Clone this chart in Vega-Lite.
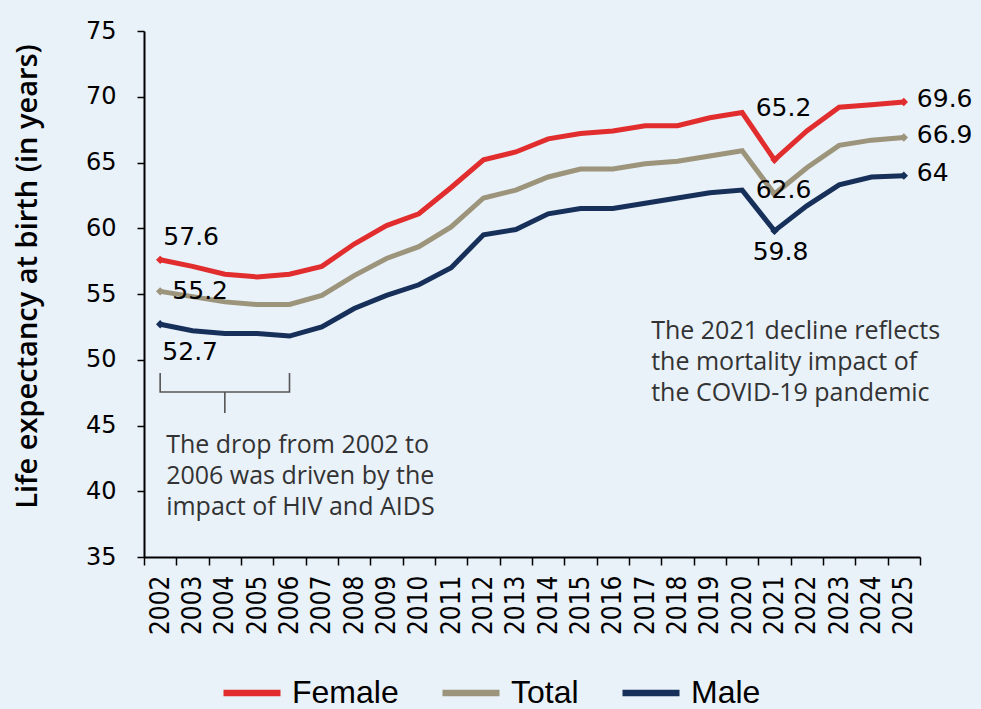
{
  "$schema": "https://vega.github.io/schema/vega-lite/v6.json",
  "width": 776,
  "height": 526,
  "autosize": {"type": "none"},
  "padding": {"left": 144, "top": 31, "right": 61, "bottom": 152},
  "background": "#E9F1F9",
  "config": {
    "view": {"stroke": null},
    "axis": {"grid": false}
  },
  "datasets": {
    "le": [
      {"year": "2002", "series": "Female", "value": 57.6},
      {"year": "2003", "series": "Female", "value": 57.1},
      {"year": "2004", "series": "Female", "value": 56.5},
      {"year": "2005", "series": "Female", "value": 56.3},
      {"year": "2006", "series": "Female", "value": 56.5},
      {"year": "2007", "series": "Female", "value": 57.1},
      {"year": "2008", "series": "Female", "value": 58.8},
      {"year": "2009", "series": "Female", "value": 60.2},
      {"year": "2010", "series": "Female", "value": 61.1},
      {"year": "2011", "series": "Female", "value": 63.1},
      {"year": "2012", "series": "Female", "value": 65.2},
      {"year": "2013", "series": "Female", "value": 65.8},
      {"year": "2014", "series": "Female", "value": 66.8},
      {"year": "2015", "series": "Female", "value": 67.2},
      {"year": "2016", "series": "Female", "value": 67.4},
      {"year": "2017", "series": "Female", "value": 67.8},
      {"year": "2018", "series": "Female", "value": 67.8},
      {"year": "2019", "series": "Female", "value": 68.4},
      {"year": "2020", "series": "Female", "value": 68.8},
      {"year": "2021", "series": "Female", "value": 65.2},
      {"year": "2022", "series": "Female", "value": 67.4},
      {"year": "2023", "series": "Female", "value": 69.2},
      {"year": "2024", "series": "Female", "value": 69.4},
      {"year": "2025", "series": "Female", "value": 69.6},
      {"year": "2002", "series": "Total", "value": 55.2},
      {"year": "2003", "series": "Total", "value": 54.8},
      {"year": "2004", "series": "Total", "value": 54.4},
      {"year": "2005", "series": "Total", "value": 54.2},
      {"year": "2006", "series": "Total", "value": 54.2},
      {"year": "2007", "series": "Total", "value": 54.9},
      {"year": "2008", "series": "Total", "value": 56.4},
      {"year": "2009", "series": "Total", "value": 57.7},
      {"year": "2010", "series": "Total", "value": 58.6},
      {"year": "2011", "series": "Total", "value": 60.1},
      {"year": "2012", "series": "Total", "value": 62.3},
      {"year": "2013", "series": "Total", "value": 62.9},
      {"year": "2014", "series": "Total", "value": 63.9},
      {"year": "2015", "series": "Total", "value": 64.5},
      {"year": "2016", "series": "Total", "value": 64.5},
      {"year": "2017", "series": "Total", "value": 64.9},
      {"year": "2018", "series": "Total", "value": 65.1},
      {"year": "2019", "series": "Total", "value": 65.5},
      {"year": "2020", "series": "Total", "value": 65.9},
      {"year": "2021", "series": "Total", "value": 62.6},
      {"year": "2022", "series": "Total", "value": 64.6},
      {"year": "2023", "series": "Total", "value": 66.3},
      {"year": "2024", "series": "Total", "value": 66.7},
      {"year": "2025", "series": "Total", "value": 66.9},
      {"year": "2002", "series": "Male", "value": 52.7},
      {"year": "2003", "series": "Male", "value": 52.2},
      {"year": "2004", "series": "Male", "value": 52.0},
      {"year": "2005", "series": "Male", "value": 52.0},
      {"year": "2006", "series": "Male", "value": 51.8},
      {"year": "2007", "series": "Male", "value": 52.5},
      {"year": "2008", "series": "Male", "value": 53.9},
      {"year": "2009", "series": "Male", "value": 54.9},
      {"year": "2010", "series": "Male", "value": 55.7},
      {"year": "2011", "series": "Male", "value": 57.0},
      {"year": "2012", "series": "Male", "value": 59.5},
      {"year": "2013", "series": "Male", "value": 59.9},
      {"year": "2014", "series": "Male", "value": 61.1},
      {"year": "2015", "series": "Male", "value": 61.5},
      {"year": "2016", "series": "Male", "value": 61.5},
      {"year": "2017", "series": "Male", "value": 61.9},
      {"year": "2018", "series": "Male", "value": 62.3},
      {"year": "2019", "series": "Male", "value": 62.7},
      {"year": "2020", "series": "Male", "value": 62.9},
      {"year": "2021", "series": "Male", "value": 59.8},
      {"year": "2022", "series": "Male", "value": 61.7},
      {"year": "2023", "series": "Male", "value": 63.3},
      {"year": "2024", "series": "Male", "value": 63.9},
      {"year": "2025", "series": "Male", "value": 64.0}
    ],
    "brace": [
      {"seg": "a", "ord": 1, "year": "2002", "value": 49.0},
      {"seg": "a", "ord": 2, "year": "2002", "value": 47.55},
      {"seg": "a", "ord": 3, "year": "2006", "value": 47.55},
      {"seg": "a", "ord": 4, "year": "2006", "value": 49.0},
      {"seg": "b", "ord": 1, "year": "2004", "value": 47.55},
      {"seg": "b", "ord": 2, "year": "2004", "value": 45.95}
    ],
    "notes": [
      {"year": "2002", "value": 44.4, "text": "The drop from 2002 to\n2006 was driven by the\nimpact of HIV and AIDS"},
      {"year": "2017", "value": 53.1, "text": "The 2021 decline reflects\nthe mortality impact of\nthe COVID-19 pandemic"}
    ]
  },
  "encoding": {
    "x": {
      "field": "year",
      "type": "ordinal",
      "bandPosition": 0.5,
      "scale": {"type": "band", "paddingInner": 0, "paddingOuter": 0},
      "axis": {
        "title": null,
        "domainColor": "#000000",
        "domainWidth": 2,
        "tickBand": "extent",
        "tickColor": "#000000",
        "tickSize": 8,
        "tickWidth": 1.5,
        "labelAngle": 270,
        "labelAlign": "right",
        "labelBaseline": "middle",
        "labelFont": "Liberation Sans Narrow, DejaVu Sans Condensed, Liberation Sans",
        "labelFontSize": 26,
        "labelColor": "#000000",
        "labelPadding": 10
      }
    },
    "y": {
      "field": "value",
      "type": "quantitative",
      "scale": {"domain": [35, 75], "nice": false, "zero": false},
      "axis": {
        "values": [35, 40, 45, 50, 55, 60, 65, 70, 75],
        "title": "Life expectancy at birth (in years)",
        "titleFont": "Open Sans",
        "titleFontWeight": 600,
        "titleFontSize": 29,
        "titleColor": "#000000",
        "titlePadding": 43,
        "titleY": 245,
        "domainColor": "#000000",
        "domainWidth": 2,
        "tickColor": "#000000",
        "tickSize": 7,
        "tickWidth": 1.5,
        "labelFont": "DejaVu Sans",
        "labelFontSize": 24,
        "labelColor": "#000000",
        "labelPadding": 21
      }
    }
  },
  "layer": [
    {
      "data": {"name": "le"},
      "mark": {"type": "line", "strokeWidth": 5},
      "encoding": {
        "color": {
          "field": "series",
          "type": "nominal",
          "scale": {"domain": ["Female", "Total", "Male"], "range": ["#E12D2D", "#9C947B", "#17305A"]},
          "legend": {
            "title": null,
            "orient": "none",
            "direction": "horizontal",
            "legendX": 76,
            "legendY": 630,
            "symbolType": "stroke",
            "symbolSize": 3249,
            "symbolStrokeWidth": 6.5,
            "labelFont": "Liberation Sans",
            "labelFontSize": 32,
            "labelColor": "#000000",
            "labelOffset": 8,
            "columnPadding": 30
          }
        }
      }
    },
    {
      "data": {"name": "le"},
      "transform": [{"filter": "datum.year == '2002' || datum.year == '2021' || datum.year == '2025'"}],
      "mark": {"type": "point", "shape": "diamond", "filled": true, "size": 70, "opacity": 1},
      "encoding": {
        "color": {"field": "series", "type": "nominal", "legend": null}
      }
    },
    {
      "data": {"name": "le"},
      "transform": [{"filter": "datum.year == '2002' && datum.series == 'Female'"}],
      "mark": {"type": "text", "font": "DejaVu Sans", "fontSize": 25, "color": "#000000", "dx": 31, "dy": -23},
      "encoding": {"text": {"field": "value", "type": "quantitative"}}
    },
    {
      "data": {"name": "le"},
      "transform": [{"filter": "datum.year == '2002' && datum.series == 'Total'"}],
      "mark": {"type": "text", "font": "DejaVu Sans", "fontSize": 25, "color": "#000000", "dx": 40, "dy": 0},
      "encoding": {"text": {"field": "value", "type": "quantitative"}}
    },
    {
      "data": {"name": "le"},
      "transform": [{"filter": "datum.year == '2002' && datum.series == 'Male'"}],
      "mark": {"type": "text", "font": "DejaVu Sans", "fontSize": 25, "color": "#000000", "dx": 30, "dy": 28},
      "encoding": {"text": {"field": "value", "type": "quantitative"}}
    },
    {
      "data": {"name": "le"},
      "transform": [{"filter": "datum.year == '2021' && datum.series == 'Female'"}],
      "mark": {"type": "text", "font": "DejaVu Sans", "fontSize": 25, "color": "#000000", "dx": 9, "dy": -52},
      "encoding": {"text": {"field": "value", "type": "quantitative"}}
    },
    {
      "data": {"name": "le"},
      "transform": [{"filter": "datum.year == '2021' && datum.series == 'Total'"}],
      "mark": {"type": "text", "font": "DejaVu Sans", "fontSize": 25, "color": "#000000", "dx": 9, "dy": -4},
      "encoding": {"text": {"field": "value", "type": "quantitative"}}
    },
    {
      "data": {"name": "le"},
      "transform": [{"filter": "datum.year == '2021' && datum.series == 'Male'"}],
      "mark": {"type": "text", "font": "DejaVu Sans", "fontSize": 25, "color": "#000000", "dx": 6, "dy": 21},
      "encoding": {"text": {"field": "value", "type": "quantitative"}}
    },
    {
      "data": {"name": "le"},
      "transform": [{"filter": "datum.year == '2025'"}],
      "mark": {"type": "text", "font": "DejaVu Sans", "fontSize": 25, "color": "#000000", "align": "left", "dx": 13, "dy": -3},
      "encoding": {"text": {"field": "value", "type": "quantitative"}}
    },
    {
      "data": {"name": "brace"},
      "mark": {"type": "line", "color": "#555555", "strokeWidth": 1.6},
      "encoding": {
        "detail": {"field": "seg", "type": "nominal"},
        "order": {"field": "ord", "type": "quantitative"}
      }
    },
    {
      "data": {"name": "notes"},
      "mark": {"type": "text", "font": "Open Sans", "fontSize": 25, "color": "#333333", "align": "left", "baseline": "top", "lineBreak": "\n", "lineHeight": 31, "dx": 6},
      "encoding": {"text": {"field": "text", "type": "nominal"}}
    }
  ]
}
